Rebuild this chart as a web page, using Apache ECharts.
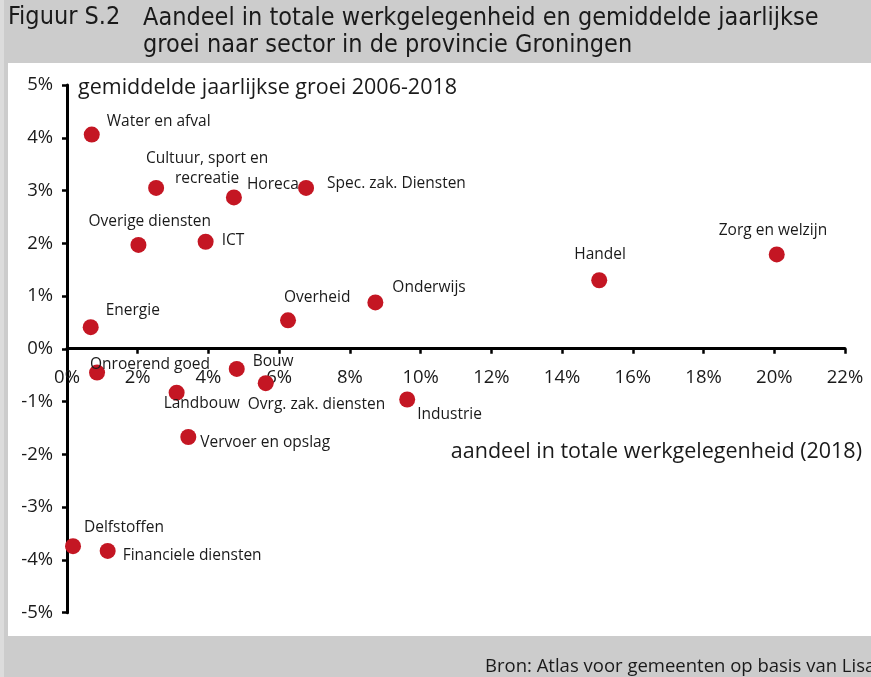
<!DOCTYPE html>
<html>
<head>
<meta charset="utf-8">
<script src="https://cdn.jsdelivr.net/npm/echarts@6/dist/echarts.min.js"></script>
<style>
html,body{margin:0;padding:0;background:#cccccc;}
#chart{width:871px;height:677px;}
</style>
</head>
<body>
<div id="chart"></div>
<script>
// sectoren en waarden (aandeel 2018 in %, groei 2006-2018 in %)
var sectors = ['Water en afval','Cultuur, sport en\nrecreatie','Horeca','Spec. zak. Diensten','Overige diensten','ICT',
	'Energie','Overheid','Onderwijs','Handel','Zorg en welzijn','Industrie','Onroerend goed','Bouw',
	'Ovrg. zak. diensten','Landbouw','Vervoer en opslag','Delfstoffen','Financiele diensten'];
var share = [0.70, 2.52, 4.72, 6.76, 2.02, 3.92, 0.67, 6.25, 8.72, 15.05, 20.07, 9.62, 0.85, 4.80, 5.62, 3.10, 3.43, 0.17, 1.15];
var growth = [4.06, 3.05, 2.87, 3.05, 1.97, 2.03, 0.41, 0.54, 0.88, 1.30, 1.79, -0.96, -0.45, -0.38, -0.65, -0.83, -1.67, -3.74, -3.83];
var xTicks = [0, 2, 4, 6, 8, 10, 12, 14, 16, 18, 20, 22];
var yTicks = [-5, -4, -3, -2, -1, 0, 1, 2, 3, 4, 5];

//label plaatsing t.o.v. het punt [dx, dy, align]
var labelPlace = [[15,-13,'left'],[51,-19,'center'],[13,-13,'left'],[21,-4,'left'],[-50,-23,'left'],[16,-1,'left'],
	[15,-17,'left'],[-4,-23,'left'],[17,-15,'left'],[-25,-26,'left'],[-58,-24,'left'],[10,15,'left'],[-7,-8,'left'],
	[16,-7,'left'],[-18,21,'left'],[-13,11,'left'],[12,6,'left'],[11,-19,'left'],[15,5,'left']];

var font = '"Open Sans", "DejaVu Sans", sans-serif';
var narrow = '"Liberation Sans Narrow", "DejaVu Sans Condensed", sans-serif';
var txt = '#1a1a1a';

var points = [];
for(var i = 0;i < sectors.length;i++){
	var lp = labelPlace[i];
	points.push({
		name: sectors[i],
		value: [share[i], growth[i]],
		label: {offset: [lp[0], lp[1]], align: lp[2]}
	});
}

var myChart = echarts.init(document.getElementById('chart'));
myChart.setOption({
	backgroundColor: '#cccccc',
	animation: false,
	graphic: [
		{type:'rect', z:-10, shape:{x:0, y:0, width:4, height:677}, style:{fill:'#dcdcdc'}},
		{type:'rect', z:-9, shape:{x:8, y:63, width:863, height:573}, style:{fill:'#ffffff'}},
		{type:'text', left:8, top:5, style:{text:'Figuur S.2', font:'25px ' + narrow, fill:txt}},
		{type:'text', left:143, top:5, style:{text:'Aandeel in totale werkgelegenheid en gemiddelde jaarlijkse\ngroei naar sector in de provincie Groningen', font:'25px ' + narrow, lineHeight:27, fill:txt}},
		{type:'text', right:9, top:441, style:{text:'aandeel in totale werkgelegenheid (2018)', font:'21.5px ' + font, fill:txt}},
		{type:'text', left:485, top:657, style:{text:'Bron: Atlas voor gemeenten op basis van Lisa', font:'18.5px ' + font, fill:txt}}
	],
	grid: {left: 67, right: 26, top: 85, bottom: 64.3},
	xAxis: {
		type: 'value', min: xTicks[0], max: xTicks[xTicks.length-1], interval: 2,
		offset: -264,
		axisLine: {onZero: false, lineStyle: {color: '#000', width: 3}},
		axisTick: {show: true, inside: false, length: 5, lineStyle: {color: '#000', width: 2.5}},
		axisLabel: {margin: 20, color: txt, fontSize: 18.5, fontFamily: font, formatter: '{value}%'},
		splitLine: {show: false}
	},
	yAxis: {
		type: 'value', min: yTicks[0], max: yTicks[yTicks.length-1], interval: 1,
		name: 'gemiddelde jaarlijkse groei 2006-2018',
		nameLocation: 'end', nameGap: -3,
		nameTextStyle: {align: 'left', verticalAlign: 'middle', padding: [0,0,0,11], color: txt, fontSize: 21.5, fontFamily: font},
		axisLine: {onZero: false, lineStyle: {color: '#000', width: 3}},
		axisTick: {show: true, inside: false, length: 5, lineStyle: {color: '#000', width: 2.5}},
		axisLabel: {margin: 14, color: txt, fontSize: 18.5, fontFamily: font, formatter: '{value}%'},
		splitLine: {show: false}
	},
	series: [{
		type: 'scatter',
		symbolSize: 16,
		itemStyle: {color: '#c41623', opacity: 1},
		label: {
			show: true, position: 'inside', verticalAlign: 'middle',
			formatter: '{b}', color: txt, fontSize: 15.5, fontFamily: font, lineHeight: 20
		},
		data: points
	}]
});
</script>
</body>
</html>
